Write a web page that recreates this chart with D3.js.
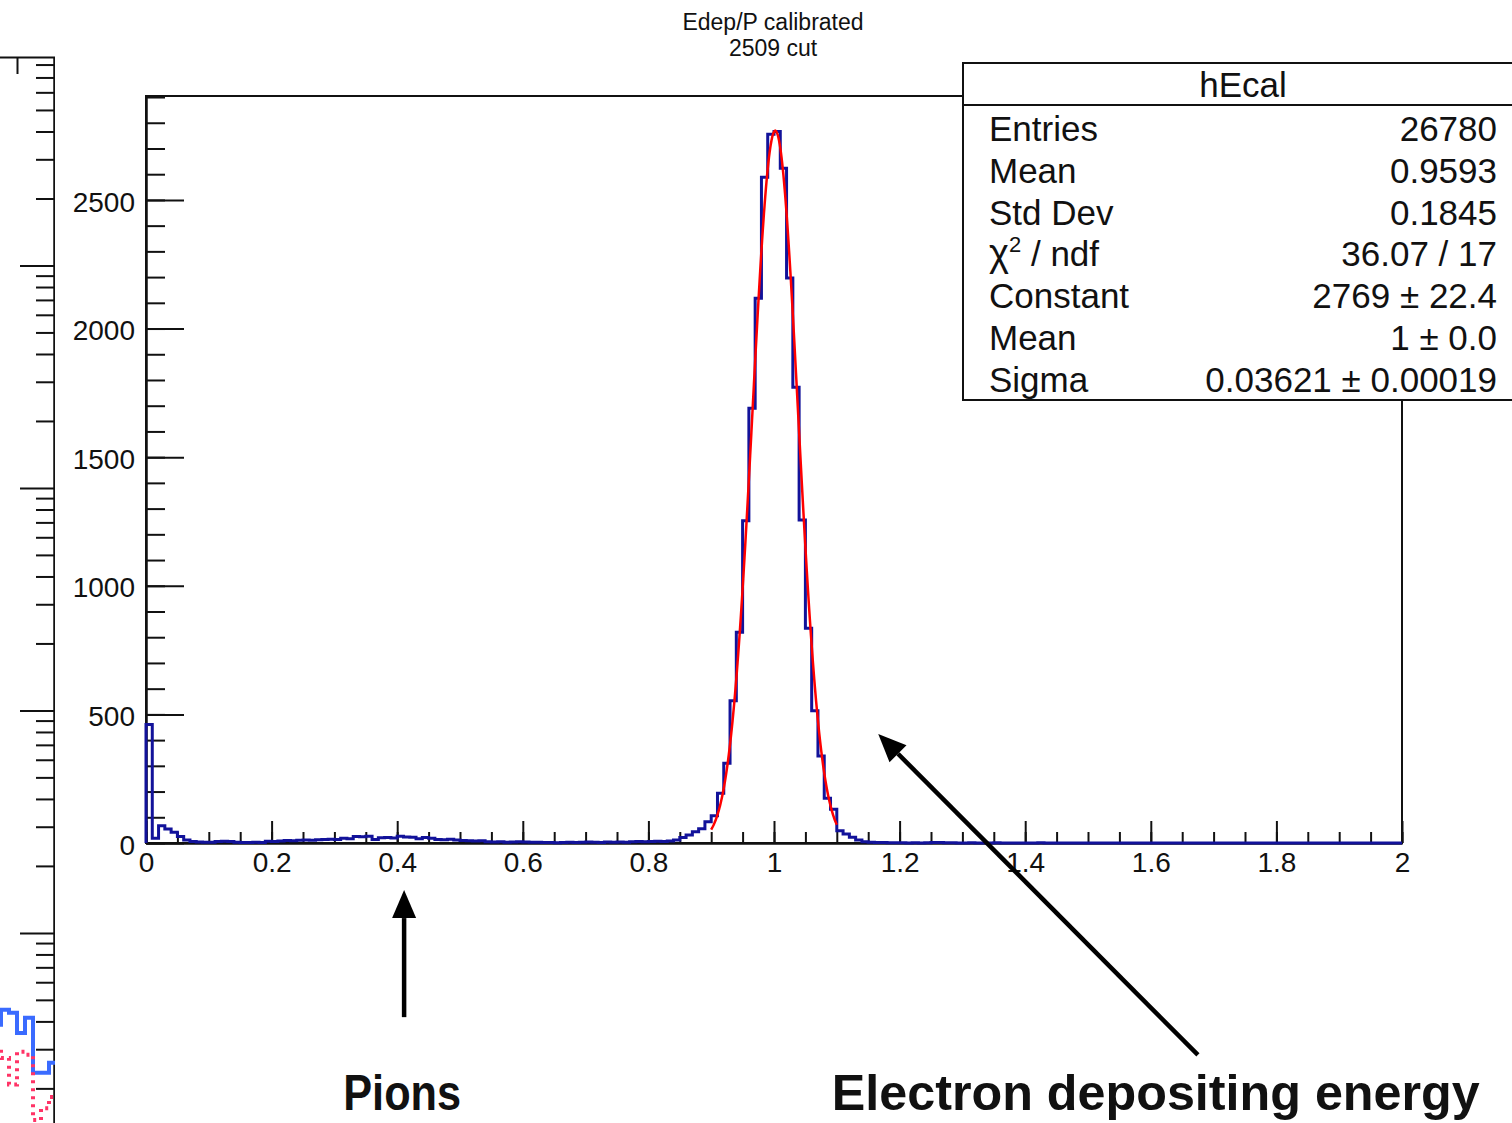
<!DOCTYPE html>
<html>
<head>
<meta charset="utf-8">
<script src="https://cdn.jsdelivr.net/npm/d3@7"></script>
<style>
  body { margin: 0; background: #fff; }
  svg { display: block; }
  text { font-family: "Liberation Sans", Arial, Helvetica, sans-serif; fill: #111; }
</style>
</head>
<body>
<svg id="chart" width="1512" height="1123"></svg>
<script>
// hEcal: Edep/P, 200 bins from 0 to 2
var binWidth = 0.01;
var counts = [
  461, 18, 67, 54, 42, 25, 12, 6, 4, 3,
  3, 6, 7, 6, 3, 2, 2, 3, 2, 7,
  6, 8, 10, 9, 11, 12, 11, 13, 14, 15,
  14, 18, 17, 25, 24, 26, 14, 20, 21, 19,
  26, 23, 22, 17, 21, 18, 14, 13, 15, 12,
  10, 9, 8, 9, 5, 4, 5, 3, 4, 5,
  4, 3, 3, 2, 2, 1, 2, 3, 2, 3,
  4, 3, 2, 4, 3, 4, 3, 5, 6, 5,
  6, 7, 6, 8, 12, 21, 31, 44, 55, 83,
  106, 193, 310, 553, 819, 1253, 1690, 2118, 2588, 2755,
  2766, 2623, 2196, 1772, 1256, 835, 514, 338, 174, 131,
  48, 35, 22, 12, 5, 3, 2, 2, 1, 1,
  1, 0, 1, 0, 1, 2, 2, 1, 1, 0,
  0, 1, 0, 0, 0, 1, 0, 0, 0, 0,
  0, 0, 1, 0, 0, 0, 0, 0, 0, 0,
  0, 0, 0, 0, 0, 0, 0, 0, 0, 0,
  0, 0, 0, 0, 0, 0, 0, 0, 0, 0,
  0, 0, 0, 0, 0, 0, 0, 0, 0, 0,
  0, 0, 0, 0, 0, 0, 0, 0, 0, 0,
  0, 0, 0, 0, 0, 0, 0, 0, 0, 0
];

var xTicks = [0, 0.2, 0.4, 0.6, 0.8, 1, 1.2, 1.4, 1.6, 1.8, 2];
var xTickLabels = ["0", "0.2", "0.4", "0.6", "0.8", "1", "1.2", "1.4", "1.6", "1.8", "2"];
var yTicks = [0, 500, 1000, 1500, 2000, 2500];
var yTickLabels = ["0", "500", "1000", "1500", "2000", "2500"];

// gaus fit
var fitConstant = 2769, fitMean = 1.002, fitSigma = 0.03621;
var fitRange = [0.9, 1.1];

var titleLines = ["Edep/P calibrated", "2509 cut"];
var statsName = "hEcal";
var statsLabels = ["Entries", "Mean", "Std Dev", "chi2", "Constant", "Mean", "Sigma"];
var statsValues = ["26780", "0.9593", "0.1845", "36.07 / 17", "2769 \u00b1 22.4", "1 \u00b1 0.0", "0.03621 \u00b1 0.00019"];

// cut-off neighbouring panel on the left (log y)
var leftBlue = [3.86, 4.51, 4.37, 3.55, 4.15, 2.35, 2.35, 2.61];
var leftRed = [2.98, 2.74, 2.08, 2.92, 2.83, 1.44, 1.63, 1.83];

var svg = d3.select("#chart");

var x = d3.scaleLinear().domain([0, 2]).range([146, 1402]);
var y = d3.scaleLinear().domain([0, 2904]).range([843, 96]);

// ---------- left partial panel ----------
svg.append("clipPath").attr("id", "leftClip")
  .append("rect").attr("x", 0).attr("y", 0).attr("width", 55).attr("height", 1123);
var left = svg.append("g").attr("clip-path", "url(#leftClip)");

var xL = d3.scaleLinear().domain([0, 8]).range([-7, 57]);
var yL = d3.scaleLog().domain([1.3, 86500]).range([1130, 57]);

var logTicks = [];
for (var n = 0; n <= 4; n++) {
  for (var k = 1; k <= 9; k++) {
    var v = k * Math.pow(10, n);
    if (v > 1.3 && v < 86500) logTicks.push(v);
  }
}
var leftMinor = d3.axisLeft(yL).tickValues(logTicks.filter(function(d) { return !Number.isInteger(Math.log10(d)); }))
  .tickSizeInner(18).tickSizeOuter(0).tickFormat("");
var leftMajor = d3.axisLeft(yL).tickValues(logTicks.filter(function(d) { return Number.isInteger(Math.log10(d)); }))
  .tickSizeInner(34).tickSizeOuter(0).tickFormat("");
left.append("g").attr("transform", "translate(54,0)").call(leftMinor);
left.append("g").attr("transform", "translate(54,0)").call(leftMajor);
left.append("g").attr("transform", "translate(0,57)")
  .call(d3.axisBottom(xL).tickValues([3]).tickSizeInner(17).tickSizeOuter(0).tickFormat(""));
left.selectAll(".domain, .tick line").attr("stroke", "#333").attr("stroke-width", 2);

var leftStep = d3.line()
  .x(function(d) { return xL(d[0]); })
  .y(function(d) { return yL(d[1]); })
  .curve(d3.curveStepAfter);
function stepPoints(arr) {
  var pts = arr.map(function(v, i) { return [i, v]; });
  pts.push([arr.length, arr[arr.length - 1]]);
  return pts;
}
left.append("path").attr("d", leftStep(stepPoints(leftBlue)))
  .attr("fill", "none").attr("stroke", "#3a6bff").attr("stroke-width", 4);
left.append("path").attr("d", leftStep(stepPoints(leftRed)))
  .attr("fill", "none").attr("stroke", "#ff3366").attr("stroke-width", 4)
  .attr("stroke-dasharray", "3,5");

// ---------- main frame & axes ----------
svg.append("rect")
  .attr("x", x(0)).attr("y", y(2904))
  .attr("width", x(2) - x(0)).attr("height", y(0) - y(2904))
  .attr("fill", "none").attr("stroke", "#111").attr("stroke-width", 2);

var yMinorAxis = d3.axisLeft(y).tickValues(d3.range(0, 2901, 100))
  .tickSizeInner(-19).tickSizeOuter(0).tickFormat("");
var yMajorAxis = d3.axisLeft(y).tickValues(yTicks)
  .tickSizeInner(-38).tickSizeOuter(0).tickPadding(11)
  .tickFormat(function(d, i) { return yTickLabels[i]; });
svg.append("g").attr("transform", "translate(" + x(0) + ",0)").call(yMinorAxis);
var gy = svg.append("g").attr("transform", "translate(" + x(0) + ",0)").call(yMajorAxis);

var xMinorAxis = d3.axisBottom(x).tickValues(d3.range(0, 2.0001, 0.05))
  .tickSizeInner(-11).tickSizeOuter(0).tickFormat("");
var xMajorAxis = d3.axisBottom(x).tickValues(xTicks)
  .tickSizeInner(-22).tickSizeOuter(0).tickPadding(9)
  .tickFormat(function(d, i) { return xTickLabels[i]; });
svg.append("g").attr("transform", "translate(0," + y(0) + ")").call(xMinorAxis);
var gx = svg.append("g").attr("transform", "translate(0," + y(0) + ")").call(xMajorAxis);

svg.selectAll(".tick line, .domain").attr("stroke", "#111").attr("stroke-width", 2);
svg.selectAll(".tick text")
  .attr("font-size", 28)
  .attr("font-family", "'Liberation Sans', Arial, sans-serif")
  .attr("fill", "#111");
gy.selectAll(".tick text").attr("dy", "0.4em");

// ---------- histogram ----------
var histPts = [[0, 0]].concat(counts.map(function(c, i) { return [i * binWidth, c]; }));
histPts.push([counts.length * binWidth, counts[counts.length - 1]]);
var histLine = d3.line()
  .x(function(d) { return x(d[0]); })
  .y(function(d) { return y(d[1]); })
  .curve(d3.curveStepAfter);
svg.append("path").attr("d", histLine(histPts))
  .attr("fill", "none").attr("stroke", "#12129a").attr("stroke-width", 3)
  .attr("stroke-linejoin", "miter");

// ---------- gaus fit ----------
var fitPts = d3.range(fitRange[0], fitRange[1] + 1e-9, 0.001).map(function(t) {
  return [t, fitConstant * Math.exp(-0.5 * Math.pow((t - fitMean) / fitSigma, 2))];
});
svg.append("path").attr("d", d3.line().x(function(d) { return x(d[0]); }).y(function(d) { return y(d[1]); })(fitPts))
  .attr("fill", "none").attr("stroke", "#ff0000").attr("stroke-width", 2.5);

// ---------- title ----------
svg.selectAll(".title").data(titleLines).enter().append("text")
  .attr("class", "title")
  .attr("x", 773).attr("y", function(d, i) { return 30 + i * 26; })
  .attr("text-anchor", "middle").attr("font-size", 23)
  .text(function(d) { return d; });

// ---------- stats box ----------
var stats = svg.append("g");
stats.append("rect").attr("x", 963).attr("y", 63).attr("width", 600).attr("height", 337)
  .attr("fill", "#fff").attr("stroke", "#111").attr("stroke-width", 2);
stats.append("line").attr("x1", 963).attr("x2", 1563).attr("y1", 105).attr("y2", 105)
  .attr("stroke", "#111").attr("stroke-width", 2);
stats.append("text").attr("x", 1243).attr("y", 97).attr("text-anchor", "middle")
  .attr("font-size", 35).text(statsName);

statsLabels.forEach(function(lab, i) {
  var yy = 141 + i * 41.8;
  var t = stats.append("text").attr("x", 989).attr("y", yy).attr("font-size", 35);
  if (lab === "chi2") {
    t.append("tspan").attr("font-size", 38).text("\u03c7");
    t.append("tspan").attr("font-size", 22).attr("dy", -14).text("2");
    t.append("tspan").attr("dy", 14).text(" / ndf");
  } else {
    t.text(lab);
  }
  stats.append("text").attr("x", 1497).attr("y", yy).attr("font-size", 35)
    .attr("text-anchor", "end").text(statsValues[i]);
});

// ---------- annotations ----------
function arrow(x1, y1, x2, y2) {
  var dx = x2 - x1, dy = y2 - y1, len = Math.sqrt(dx * dx + dy * dy);
  var ux = dx / len, uy = dy / len, hl = 28, hw = 12;
  var bx = x2 - ux * hl, by = y2 - uy * hl;
  svg.append("line").attr("x1", x1).attr("y1", y1).attr("x2", bx).attr("y2", by)
    .attr("stroke", "#000").attr("stroke-width", 4.5);
  svg.append("path")
    .attr("d", "M" + x2 + "," + y2 + "L" + (bx - uy * hw) + "," + (by + ux * hw) +
      "L" + (bx + uy * hw) + "," + (by - ux * hw) + "Z")
    .attr("fill", "#000");
}
arrow(x(0.411), y(-677), x(0.411), y(-183));
arrow(x(1.675), y(-824), x(1.166), y(424));

var notes = [
  { text: "Pions", cx: x(0.408), width: 118 },
  { text: "Electron depositing energy", cx: x(1.608), width: 648 }
];
notes.forEach(function(n) {
  var t = svg.append("text").attr("x", 0).attr("y", 0)
    .attr("font-size", 50).attr("font-weight", "bold")
    .attr("font-family", "'DejaVu Sans', sans-serif").attr("fill", "#000")
    .text(n.text);
  var w = t.node().getComputedTextLength();
  var s = n.width / w;
  t.attr("transform", "translate(" + (n.cx - n.width / 2) + ",1110) scale(" + s + ",1)");
});
</script>
</body>
</html>
